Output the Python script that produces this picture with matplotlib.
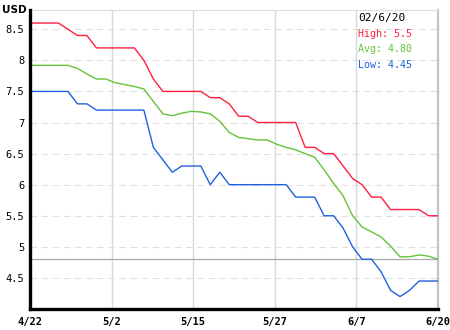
import matplotlib
matplotlib.use("Agg")
import matplotlib.pyplot as plt
import numpy as np

x_labels = ["4/22", "5/2", "5/15", "5/27", "6/7", "6/20"]
y_ticks = [4.5, 5, 5.5, 6, 6.5, 7, 7.5, 8, 8.5]
y_tick_labels = ["4.5", "5", "5.5", "6", "6.5", "7", "7.5", "8", "8.5"]

high = [8.6, 8.6, 8.6, 8.6, 8.5, 8.4, 8.4, 8.2, 8.2, 8.2, 8.2, 8.2, 8.0, 7.7,
        7.5, 7.5, 7.5, 7.5, 7.5, 7.4, 7.4, 7.3, 7.1, 7.1, 7.0, 7.0, 7.0, 7.0,
        7.0, 6.6, 6.6, 6.5, 6.5, 6.3, 6.1, 6.0, 5.8, 5.8, 5.6, 5.6, 5.6, 5.6,
        5.5, 5.5]
avg = [7.92, 7.92, 7.92, 7.92, 7.92, 7.87, 7.78, 7.70, 7.70, 7.64, 7.61, 7.58,
       7.54, 7.34, 7.14, 7.11, 7.15, 7.18, 7.17, 7.14, 7.02, 6.84, 6.76, 6.74,
       6.72, 6.72, 6.65, 6.60, 6.56, 6.50, 6.44, 6.24, 6.02, 5.82, 5.50, 5.32,
       5.24, 5.16, 5.01, 4.84, 4.84, 4.87, 4.85, 4.80]
low = [7.5, 7.5, 7.5, 7.5, 7.5, 7.3, 7.3, 7.2, 7.2, 7.2, 7.2, 7.2, 7.2, 6.6,
       6.4, 6.2, 6.3, 6.3, 6.3, 6.0, 6.2, 6.0, 6.0, 6.0, 6.0, 6.0, 6.0, 6.0,
       5.8, 5.8, 5.8, 5.5, 5.5, 5.3, 5.0, 4.8, 4.8, 4.6, 4.3, 4.2, 4.3, 4.45,
       4.45, 4.45]

date_text = "02/6/20"
high_text = "High: 5.5"
avg_text = "Avg: 4.80"
low_text = "Low: 4.45"
ref_value = 4.80

c_high = "#ff2040"
c_avg = "#66c23a"
c_low = "#2160e0"

fig = plt.figure(figsize=(4.5, 3.3), dpi=100)
ax = fig.add_axes([30/450, 1-309/330, 408/450, 299/330])

n = len(high)
xs = np.arange(n)
ax.set_xlim(0, n - 1)
ax.set_ylim(4.0, 8.81)

# grid
for yv in y_ticks:
    ax.axhline(yv, color="#e0e0e0", lw=0.8, ls=(0, (6, 4)), zorder=0)
xt = np.linspace(0, n - 1, len(x_labels))
for xv in xt[1:-1]:
    ax.axvline(xv, color="#d8d8d8", lw=1.0, zorder=0)
ax.axhline(ref_value, color="#a8a8a8", lw=0.9, zorder=1)

ax.plot(xs, high, color=c_high, lw=1.0, zorder=3)
ax.plot(xs, avg, color=c_avg, lw=1.0, zorder=3)
ax.plot(xs, low, color=c_low, lw=1.0, zorder=3)

for s in ["left", "bottom"]:
    ax.spines[s].set_color("black")
    ax.spines[s].set_linewidth(2.4)
    ax.spines[s].set_zorder(5)
ax.spines["top"].set_color("#dddddd")
ax.spines["top"].set_linewidth(0.8)
ax.spines["right"].set_color("#c4c4c4")
ax.spines["right"].set_linewidth(1.6)

ax.set_yticks(y_ticks)
ax.set_yticklabels(y_tick_labels, family="DejaVu Sans Mono", fontsize=7.5)
ax.set_xticks(xt)
ax.set_xticklabels(x_labels, family="DejaVu Sans Mono", fontsize=7.5,
                   fontweight="bold")
ax.tick_params(length=0, pad=4)
ax.tick_params(axis="x", pad=6)

fig.text(2/450, 1-10/330, "USD", family="DejaVu Sans", fontsize=7.5,
         fontweight="bold", va="center", ha="left")

tx = 358/450
fig.text(tx, 1-18/330, date_text, family="DejaVu Sans Mono", fontsize=8,
         color="black", va="center")
fig.text(tx, 1-34/330, high_text, family="DejaVu Sans Mono", fontsize=7.2,
         color=c_high, va="center")
fig.text(tx, 1-49.5/330, avg_text, family="DejaVu Sans Mono", fontsize=7.2,
         color=c_avg, va="center")
fig.text(tx, 1-65/330, low_text, family="DejaVu Sans Mono", fontsize=7.2,
         color=c_low, va="center")

fig.savefig("out.png", dpi=100)
